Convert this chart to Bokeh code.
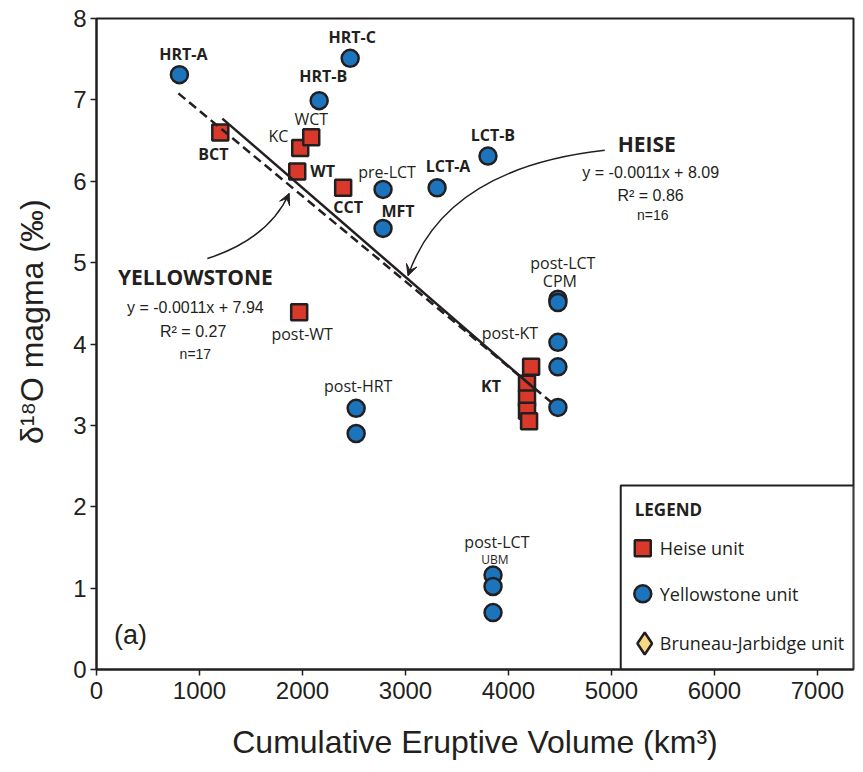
import numpy as np
from bokeh.plotting import figure
from bokeh.models import Range1d, Arrow, VeeHead, FixedTicker
from bokeh.core.properties import value
from bokeh.embed import file_html
from bokeh.resources import INLINE

# ---------------- data ----------------
heise_names = ["BCT", "KC", "WCT", "WT", "CCT", "post-WT", "KT", "KT", "KT", "KT", "KT"]
heise_x = [1202, 1978, 2085, 1949, 2395, 1968, 4220, 4180, 4180, 4180, 4200]
heise_y = [6.60, 6.41, 6.54, 6.12, 5.92, 4.39, 3.72, 3.51, 3.33, 3.18, 3.05]

yel_names = ["HRT-A", "HRT-B", "HRT-C", "pre-LCT", "MFT", "LCT-A", "LCT-B",
             "CPM", "CPM", "post-KT", "post-KT", "post-KT",
             "post-HRT", "post-HRT", "UBM", "UBM", "UBM"]
yel_x = [805, 2162, 2463, 2782, 2782, 3307, 3801,
         4480, 4480, 4480, 4480, 4480,
         2521, 2521, 3850, 3850, 3850]
yel_y = [7.31, 6.99, 7.51, 5.90, 5.42, 5.92, 6.31,
         4.55, 4.51, 4.02, 3.72, 3.22,
         3.21, 2.90, 1.16, 1.02, 0.70]

# regression line end points
heise_fit_x = [1222, 4255]
heise_fit_y = [6.77, 3.45]
yel_fit_x = [795, 4430]
yel_fit_y = [7.08, 3.27]

x_ticks = [0, 1000, 2000, 3000, 4000, 5000, 6000, 7000]
y_ticks = [0, 1, 2, 3, 4, 5, 6, 7, 8]

RED = "#d8392a"
BLUE = "#1c75bc"
TAN = "#f9d884"
INK = "#231f20"

p = figure(width=863, height=772, output_backend="svg", toolbar_location=None,
           x_range=Range1d(0, 7350), y_range=Range1d(0, 8),
           min_border_left=96, min_border_right=10, min_border_top=18,
           min_border_bottom=103)
p.xgrid.visible = False
p.ygrid.visible = False
p.outline_line_color = INK
p.outline_line_width = 2
p.background_fill_color = "white"
p.border_fill_color = "white"

p.xaxis.ticker = FixedTicker(ticks=x_ticks)
p.yaxis.ticker = FixedTicker(ticks=y_ticks)
p.xaxis.axis_label = "Cumulative Eruptive Volume (km³)"
p.yaxis.axis_label = "\u00a0\u00a0\u00a0\u00a0\u00a0δ¹⁸O magma (‰)"
for ax in (p.xaxis[0], p.yaxis[0]):
    ax.axis_line_width = 2
    ax.axis_line_color = INK
    ax.major_tick_line_color = INK
    ax.major_tick_line_width = 1.5
    ax.major_tick_in = 0
    ax.major_tick_out = 6
    ax.minor_tick_line_color = None
    ax.major_label_text_font = "Liberation Sans"
    ax.major_label_text_font_size = "24px"
    ax.major_label_text_color = INK
    ax.axis_label_text_font = "Liberation Sans"
    ax.axis_label_text_font_size = "32px"
    ax.axis_label_text_font_style = "normal"
    ax.axis_label_text_color = INK
p.xaxis.major_label_standoff = 6
p.yaxis.major_label_standoff = 4
p.xaxis.axis_label_standoff = 22
p.yaxis.axis_label_standoff = 20

# markers
p.scatter(heise_x, heise_y, marker="square", size=16, fill_color=RED,
          line_color=INK, line_width=2.5)
p.scatter(yel_x, yel_y, marker="circle", size=17, fill_color=BLUE,
          line_color=INK, line_width=2.5)

# regression lines
p.line(heise_fit_x, heise_fit_y, line_color=INK, line_width=2.5)
p.line(yel_fit_x, yel_fit_y, line_color=INK, line_width=2.5, line_dash="9 5")


def add_text(items, size, bold=False, align="center", font="Open Sans"):
    p.text(x=[i[1] for i in items], y=[i[2] for i in items],
           text=[i[0] for i in items],
           text_font=value(font), text_font_size=size,
           text_font_style="bold" if bold else "normal",
           text_align=align, text_baseline="middle", text_color=INK)


add_text([("HRT-A", 844, 7.56), ("HRT-C", 2482, 7.77), ("HRT-B", 2201, 7.29),
          ("BCT", 1134, 6.34), ("CCT", 2443, 5.68), ("LCT-A", 3413, 6.19),
          ("LCT-B", 3849, 6.57), ("MFT", 2928, 5.64), ("KT", 3830, 3.48)],
         "16px", bold=True)
add_text([("WT", 2075, 6.13)], "16px", bold=True, align="left")
add_text([("WCT", 2085, 6.77), ("pre-LCT", 2821, 6.11), ("post-WT", 1997, 4.12),
          ("post-HRT", 2541, 3.48), ("post-LCT", 4528, 4.99), ("CPM", 4499, 4.78),
          ("post-KT", 4014, 4.13), ("post-LCT", 3888, 1.57)], "16px")
add_text([("KC", 1862, 6.55)], "16px", align="right")
add_text([("UBM", 3869, 1.35)], "12px")

add_text([("HEISE", 5343, 6.46), ("YELLOWSTONE", 960, 4.82)], "21px", bold=True)
add_text([("y = -0.0011x + 8.09", 5381, 6.11), ("R²  = 0.86", 5401, 5.82),
          ("y = -0.0011x + 7.94", 960, 4.45), ("R²  = 0.27", 960, 4.15)],
         "16px", font="Liberation Sans")
add_text([("n=16", 5401, 5.59), ("n=17", 960, 3.88)], "14px", font="Liberation Sans")
add_text([("(a)", 330, 0.43)], "27px", font="Liberation Sans")

# curved arrows (quadratic curves + heads)
arrows = [
    # (x0, y0, cx, cy, x1, y1)
    (4935, 6.38, 3384, 6.16, 3025, 4.84),
    (1076, 5.05, 1668, 5.29, 1871, 5.85),
]
for x0, y0, cx, cy, x1, y1 in arrows:
    p.quadratic(x0=[x0], y0=[y0], x1=[x1], y1=[y1], cx=[cx], cy=[cy],
                line_color=INK, line_width=1.5)
    f = 0.06
    p.add_layout(Arrow(end=VeeHead(size=11, fill_color=INK, line_color=INK, line_width=1),
                       x_start=x1 - f * (x1 - cx), y_start=y1 - f * (y1 - cy),
                       x_end=x1, y_end=y1, line_color=INK, line_width=1.5))

# legend box (drawn by hand)
p.quad(left=[5090], right=[7350], bottom=[0], top=[2.26], fill_color="white",
       line_color=INK, line_width=2)
add_text([("LEGEND", 5226, 1.97)], "17px", bold=True, align="left")
p.scatter([5304], [1.49], marker="square", size=16, fill_color=RED, line_color=INK, line_width=2.5)
p.scatter([5304], [0.93], marker="circle", size=17, fill_color=BLUE, line_color=INK, line_width=2.5)
p.scatter([5323], [0.32], marker="diamond", size=22, fill_color=TAN, line_color=INK, line_width=2.5)
add_text([("Heise unit", 5469, 1.49), ("Yellowstone unit", 5469, 0.93),
          ("Bruneau-Jarbidge unit", 5469, 0.32)], "18px", align="left")

open("out.html", "w").write(file_html(p, INLINE))
